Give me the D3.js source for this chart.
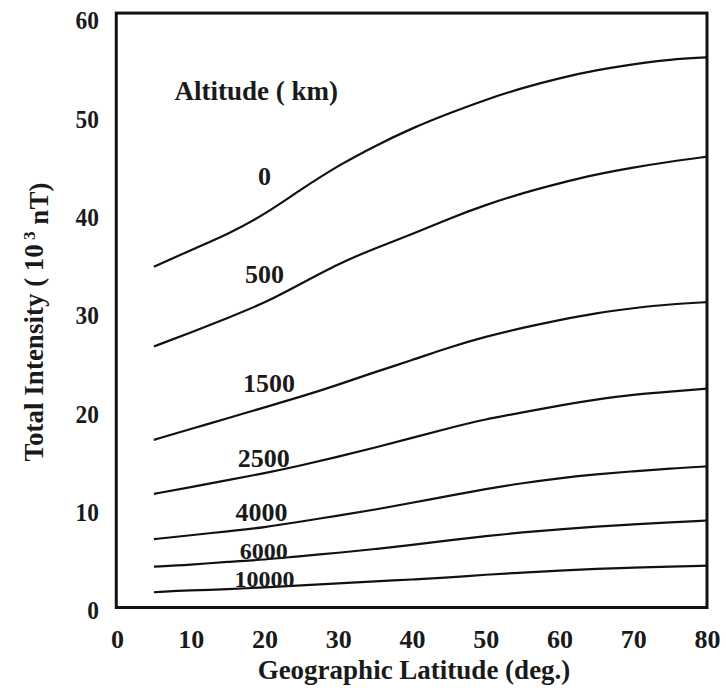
<!DOCTYPE html>
<html lang="en">
<head>
    <meta charset="UTF-8">
    <title>Total Intensity vs Latitude</title>
    <script src="https://d3js.org/d3.v7.min.js"></script>
    <style>
        body { margin: 0; background: white; }
        text { font-family: "Liberation Serif", "DejaVu Serif", serif; fill: #1a1a1a; }
    </style>
</head>
<body>
    <svg id="svg"></svg>
    <script>
        // latitudes (deg) where the curves were read
        const latitudes = [5, 10, 15, 20, 25, 30, 35, 40, 45, 50, 55, 60, 65, 70, 75, 80];
        const altitudes = ['0', '500', '1500', '2500', '4000', '6000', '10000'];
        // total intensity, 10^3 nT
        const alt0     = [34.7, 36.4, 38.0, 40.0, 42.6, 45.0, 47.0, 48.8, 50.3, 51.7, 52.9, 53.9, 54.7, 55.3, 55.8, 56.0];
        const alt500   = [26.6, 28.0, 29.5, 31.0, 33.0, 35.0, 36.6, 38.0, 39.6, 41.0, 42.2, 43.2, 44.1, 44.8, 45.4, 45.9];
        const alt1500  = [17.1, 18.2, 19.3, 20.4, 21.5, 22.7, 24.0, 25.2, 26.5, 27.6, 28.5, 29.3, 30.0, 30.5, 30.9, 31.1];
        const alt2500  = [11.6, 12.3, 13.0, 13.7, 14.5, 15.4, 16.3, 17.3, 18.3, 19.2, 19.9, 20.6, 21.2, 21.7, 22.0, 22.3];
        const alt4000  = [7.0, 7.4, 7.8, 8.2, 8.8, 9.4, 10.0, 10.7, 11.4, 12.1, 12.7, 13.2, 13.6, 13.9, 14.2, 14.4];
        const alt6000  = [4.2, 4.4, 4.7, 4.9, 5.3, 5.6, 6.0, 6.4, 6.9, 7.3, 7.7, 8.0, 8.3, 8.5, 8.7, 8.9];
        const alt10000 = [1.6, 1.8, 1.9, 2.1, 2.3, 2.5, 2.7, 2.9, 3.1, 3.4, 3.6, 3.8, 4.0, 4.1, 4.2, 4.3];
        const series = [alt0, alt500, alt1500, alt2500, alt4000, alt6000, alt10000];
        // where each altitude label sits (lat, intensity)
        const labelLat = [20, 20, 20.6, 19.9, 19.6, 19.9, 20];
        const labelVal = [43.9, 34.0, 22.9, 15.3, 9.8, 5.85, 2.95];
        const xTicks = [0, 10, 20, 30, 40, 50, 60, 70, 80];
        const yTicks = [0, 10, 20, 30, 40, 50, 60];

        const width = 726;
        const height = 688;
        const svg = d3.select('#svg')
            .attr('width', width)
            .attr('height', height);

        const xScale = d3.scaleLinear().domain([0, 80]).range([117, 707]);
        const yScale = d3.scaleLinear().domain([0, 60]).range([608, 18]);

        // axes: labels only, no tick marks
        const xAxis = d3.axisBottom(xScale).tickValues(xTicks).tickSize(0).tickPadding(21);
        const yAxis = d3.axisLeft(yScale).tickValues(yTicks).tickSize(0).tickPadding(20);

        const gx = svg.append('g')
            .attr('transform', 'translate(0,' + yScale(0) + ')')
            .call(xAxis);
        const gy = svg.append('g')
            .attr('transform', 'translate(' + xScale(0) + ',0)')
            .call(yAxis);
        svg.selectAll('.domain').remove();
        svg.selectAll('.tick text')
            .style('font-size', '26px')
            .style('font-weight', 'bold')
            .attr('fill', '#1a1a1a');
        gy.selectAll('.tick text').attr('dy', '0.42em').attr('transform', 'scale(0.9,1)');
        gx.selectAll('.tick text').attr('dy', '0.74em');

        // plot frame
        svg.append('rect')
            .attr('x', xScale(-0.1))
            .attr('y', yScale(60.5))
            .attr('width', xScale(80) - xScale(-0.1))
            .attr('height', yScale(0.05) - yScale(60.5))
            .attr('fill', 'none')
            .attr('stroke', '#111')
            .attr('stroke-width', 3);

        const line = d3.line()
            .x((d, i) => xScale(latitudes[i]))
            .y(d => yScale(d))
            .curve(d3.curveBasis);

        svg.selectAll('.curve')
            .data(series)
            .enter()
            .append('path')
            .attr('class', 'curve')
            .attr('d', line)
            .attr('fill', 'none')
            .attr('stroke', '#111')
            .attr('stroke-width', 2.2);

        svg.selectAll('.alt-label')
            .data(altitudes)
            .enter()
            .append('text')
            .attr('class', 'alt-label')
            .attr('x', (d, i) => xScale(labelLat[i]))
            .attr('y', (d, i) => yScale(labelVal[i]))
            .attr('dy', '0.35em')
            .attr('text-anchor', 'middle')
            .style('font-size', (d, i) => i > 4 ? '24px' : '26px')
            .style('font-weight', 'bold')
            .text(d => d);

        svg.append('text')
            .attr('x', xScale(7.8))
            .attr('y', yScale(51.7))
            .style('font-size', '27px')
            .style('font-weight', 'bold')
            .text('Altitude ( km)');

        // axis titles
        svg.append('text')
            .attr('x', 414)
            .attr('y', 679)
            .attr('text-anchor', 'middle')
            .style('font-size', '27px')
            .style('font-weight', 'bold')
            .text('Geographic Latitude  (deg.)');

        const yTitle = svg.append('text')
            .attr('transform', 'translate(43,322) rotate(-90)')
            .attr('text-anchor', 'middle')
            .style('font-size', '27px')
            .style('font-weight', 'bold');
        yTitle.append('tspan').text('Total Intensity ( 10');
        yTitle.append('tspan').attr('dy', '-0.5em').style('font-size', '17px').text(' 3');
        yTitle.append('tspan').attr('dy', '0.5em').text(' nT)');
    </script>
</body>
</html>
